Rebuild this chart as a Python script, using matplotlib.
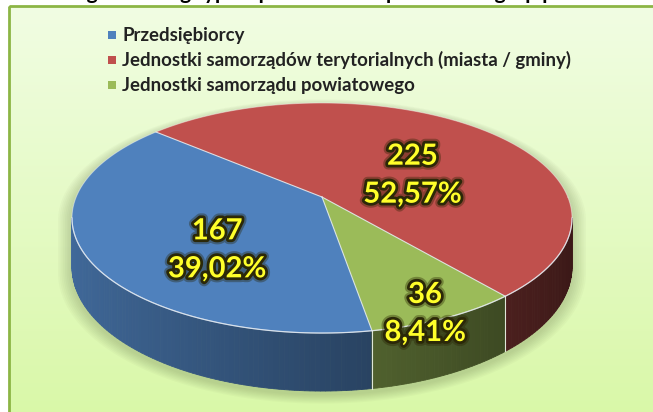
import numpy as np
import matplotlib
matplotlib.use("Agg")
import matplotlib.pyplot as plt
from matplotlib.patches import Polygon, Rectangle
import matplotlib.patheffects as pe

# slice data
categories = [
    "Przedsiębiorcy",
    "Jednostki samorządów terytorialnych (miasta / gminy)",
    "Jednostki samorządu powiatowego",
]
counts = [167, 225, 36]
colors = ["#4f81bd", "#c0504d", "#9bbb59"]

title = "Liczba zgłoszeń wg typu / podmiotów / powiatów i grup podmiotów /"

# label placement inside each slice (radius, angle shift from mid-angle)
label_r = [0.59, 0.43, 0.95]
label_da = [19.0, -17.0, -3.0]

W, H = 653, 412
CX, CY = 322.0, 197.0      # projected centre of the top face
SX, SY, K = 245.8, 111.2, 0.1827
DEPTH = 47.4
START = 279.6              # first slice starts here, going clockwise


def proj(x, y):
    w = 1.0 + K * y
    return CX + SX * x / w, CY - SY * y / w


def depth(y):
    return DEPTH / (1.0 + K * y)


def rim(t_deg):
    t = np.radians(t_deg)
    return proj(np.cos(t), np.sin(t))


def shade(hex_color, f):
    rgb = np.array(matplotlib.colors.to_rgb(hex_color))
    return tuple(np.clip(rgb * f, 0, 1))


fig = plt.figure(figsize=(W / 100, H / 100), dpi=100)
ax = fig.add_axes([0, 0, 1, 1])
ax.set_xlim(0, W)
ax.set_ylim(H, 0)
ax.axis("off")

# panel background with vertical gradient
grad = np.linspace(0, 1, 256)[:, None]
top_c = np.array([0.945, 0.992, 0.890])
bot_c = np.array([0.850, 0.972, 0.655])
img = top_c[None, None, :] * (1 - grad[..., None]) + bot_c[None, None, :] * grad[..., None]
img = np.repeat(img, 2, axis=1)
ax.imshow(img, extent=[9, W + 10, H + 10, 6], aspect="auto", zorder=0)
ax.add_patch(Rectangle((9, 6), W, H, fill=False, ec="#8cb545", lw=2, zorder=1))

ax.text(14, -1, title, fontsize=15, fontweight="bold", family="Lato",
        color="black", va="baseline", ha="left", zorder=1, clip_on=False)

# slice angles (clockwise)
total = sum(counts)
spans = [c / total * 360.0 for c in counts]
bounds = []
a = START
for s in spans:
    bounds.append((a, a - s))
    a -= s

# soft shadow under the pie
ts = np.linspace(0, 360, 361)
sil = []
for t in ts:
    x, y = rim(t)
    if 190 < t < 350:
        y += depth(np.sin(np.radians(t)))
    sil.append((x, y))
sil = np.array(sil)
for i in range(8, 0, -1):
    sc = 1.0 + i * 0.007
    pts = np.column_stack([CX + (sil[:, 0] - CX) * sc, 220 + (sil[:, 1] - 220) * sc + 3])
    ax.add_patch(Polygon(pts, closed=True, fc="#5a6a40", ec="none", alpha=0.035, zorder=2))

# outer walls, only the front part is visible
vis_lo, vis_hi = 190.5, 349.5
for (a0, a1), col in zip(bounds, colors):
    hi, lo = a0, a1
    # normalise into 0..360 range
    while hi > 360:
        hi -= 360
        lo -= 360
    while lo < 0:
        hi += 360
        lo += 360
    for base in (0, 360, -360):
        s0 = max(lo + base, vis_lo)
        s1 = min(hi + base, vis_hi)
        if s1 <= s0:
            continue
        steps = np.linspace(s0, s1, max(int((s1 - s0) / 1.0) + 2, 2))
        for ta, tb in zip(steps[:-1], steps[1:]):
            xa, ya = rim(ta)
            xb, yb = rim(tb)
            da = depth(np.sin(np.radians(ta)))
            db = depth(np.sin(np.radians(tb)))
            tm = np.radians((ta + tb) / 2)
            f = 0.56 + 0.26 * np.cos(tm - np.pi)
            c = shade(col, f)
            ax.add_patch(Polygon([(xa, ya), (xb, yb), (xb, yb + db), (xa, ya + da)],
                                 closed=True, fc=c, ec=c, lw=0.6, zorder=3))

# separators on the wall where slices meet
for a0, _ in bounds:
    t = a0 % 360
    if vis_lo < t < vis_hi:
        x, y = rim(t)
        ax.plot([x, x], [y, y + depth(np.sin(np.radians(t)))], color="#dfe6d8",
                lw=0.8, zorder=4)

# top faces
for (a0, a1), col in zip(bounds, colors):
    tt = np.linspace(a0, a1, 200)
    pts = [proj(0, 0)] + [rim(t) for t in tt]
    ax.add_patch(Polygon(pts, closed=True, fc=col, ec="none", zorder=5))

for a0, _ in bounds:
    x, y = rim(a0)
    ax.plot([CX, x], [CY, y], color="#e6ecf2", lw=0.8, alpha=0.85, zorder=6)

# light rim along the top edge
tt = np.linspace(0, 360, 720)
rx, ry = zip(*[rim(t) for t in tt])
ax.plot(rx, ry, color="white", lw=0.7, alpha=0.45, zorder=6)
tt = np.linspace(vis_lo, vis_hi, 400)
rx, ry = zip(*[rim(t) for t in tt])
ax.plot(rx, ry, color="#e8eef5", lw=0.9, alpha=0.8, zorder=6)

# value labels
glow = [pe.withStroke(linewidth=7, foreground=(0.15, 0.13, 0.0, 0.35)),
        pe.withStroke(linewidth=4, foreground="#2b2808")]
for (a0, a1), cnt, r, da in zip(bounds, counts, label_r, label_da):
    mid = np.radians((a0 + a1) / 2 + da)
    lx, ly = proj(r * np.cos(mid), r * np.sin(mid))
    pct = f"{cnt / total * 100:.2f}".replace(".", ",") + "%"
    for txt, dy in ((str(cnt), -19), (pct, 19)):
        ax.text(lx, ly + dy, txt, fontsize=21, fontweight="bold", family="Lato",
                color="#ffff2a", ha="center", va="center", zorder=8,
                path_effects=glow)

# legend
for i, (name, col) in enumerate(zip(categories, colors)):
    y = 35 + i * 25
    ax.add_patch(Rectangle((108, y - 4.5), 8, 8, fc=col, ec="none", zorder=7))
    ax.text(122, y, name, fontsize=13.4, fontweight="bold", family="Lato",
            color="#222222", va="center", ha="left", zorder=7)

fig.savefig("out.png", dpi=100)
